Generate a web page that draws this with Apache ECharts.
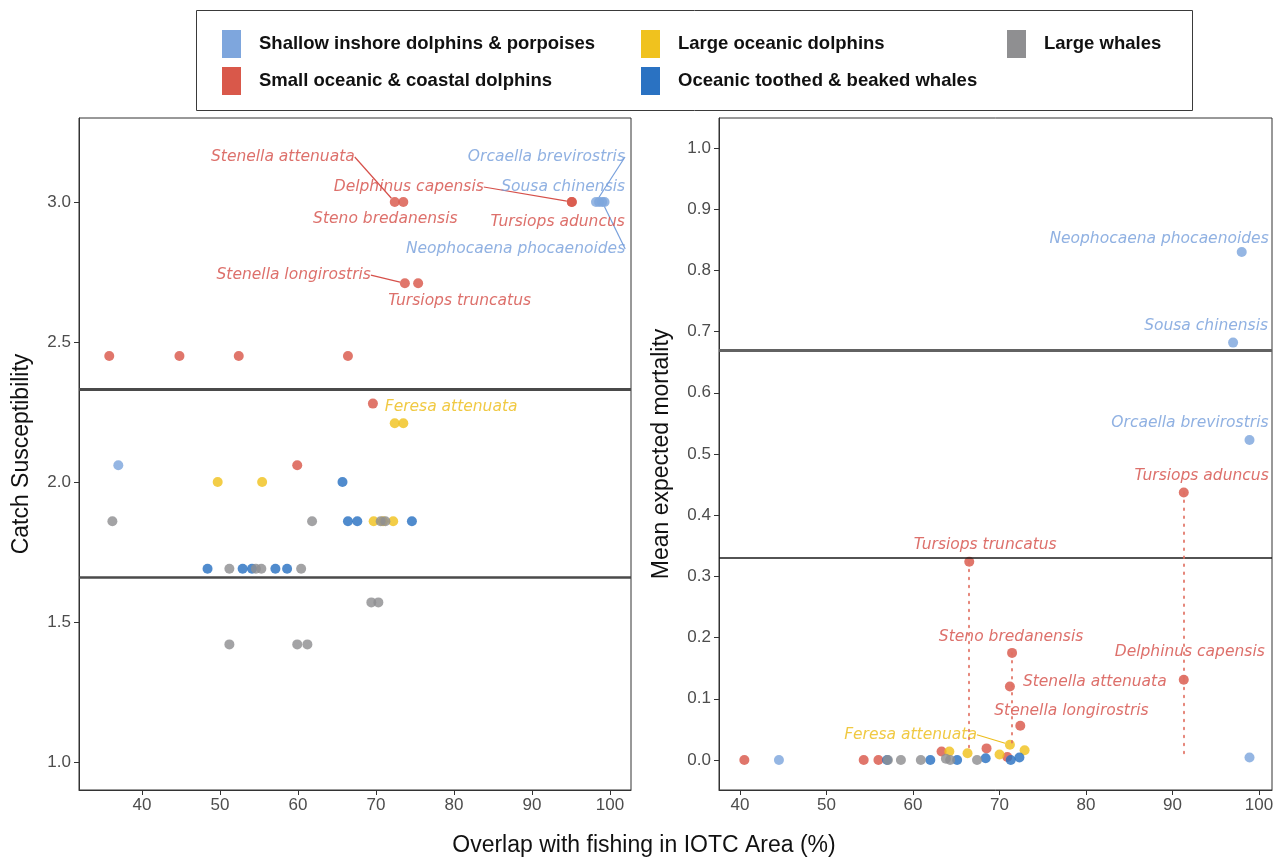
<!DOCTYPE html>
<html>
<head>
<meta charset="utf-8">
<script src="https://cdn.jsdelivr.net/npm/echarts@6/dist/echarts.min.js"></script>
<style>
  html, body { margin: 0; padding: 0; background: #fff; }
  #chart { width: 1277px; height: 861px; }
</style>
</head>
<body>
<div id="chart"></div>
<script>
// ---------- data ----------
const groups = [
  'Shallow inshore dolphins & porpoises',
  'Small oceanic & coastal dolphins',
  'Large oceanic dolphins',
  'Oceanic toothed & beaked whales',
  'Large whales'
];

// tick values
const overlapTicks = [40, 50, 60, 70, 80, 90, 100];
const susceptibilityTicks = [1.0, 1.5, 2.0, 2.5, 3.0];
const mortalityTicks = [0.0, 0.1, 0.2, 0.3, 0.4, 0.5, 0.6, 0.7, 0.8, 0.9, 1.0];

// category thresholds
const susceptibilityBands = [1.66, 2.33];
const mortalityBands = [0.333, 0.667];

// Catch susceptibility panel: [overlap %, susceptibility, species]
const catchShallow = [[36.96, 2.06], [98.2, 3.0, 'Orcaella brevirostris'], [98.6, 3.0, 'Sousa chinensis'],
  [99.0, 3.0, 'Neophocaena phocaenoides'], [99.3, 3.0]];
const catchSmallOceanic = [[35.8, 2.45], [44.8, 2.45], [52.4, 2.45], [66.4, 2.45], [69.6, 2.28], [59.9, 2.06],
  [72.4, 3.0, 'Stenella attenuata'], [73.5, 3.0, 'Steno bredanensis'],
  [95.1, 3.0, 'Delphinus capensis'], [95.1, 3.0, 'Tursiops aduncus'],
  [73.7, 2.71, 'Stenella longirostris'], [75.4, 2.71, 'Tursiops truncatus']];
const catchLargeOceanic = [[72.4, 2.21, 'Feresa attenuata'], [73.5, 2.21], [49.7, 2.0], [55.4, 2.0],
  [69.7, 1.86], [70.9, 1.86], [72.2, 1.86]];
const catchToothed = [[65.7, 2.0], [66.4, 1.86], [67.6, 1.86], [74.6, 1.86],
  [48.4, 1.69], [52.9, 1.69], [54.1, 1.69], [57.1, 1.69], [58.6, 1.69]];
const catchWhales = [[36.2, 1.86], [61.8, 1.86], [70.6, 1.86], [71.2, 1.86],
  [51.2, 1.69], [54.6, 1.69], [55.3, 1.69], [60.4, 1.69],
  [69.4, 1.57], [70.3, 1.57], [51.2, 1.42], [59.9, 1.42], [61.2, 1.42]];

// Mean expected mortality panel: [overlap %, mortality, species]
const mortShallow = [[98.0, 0.830, 'Neophocaena phocaenoides'], [97.0, 0.682, 'Sousa chinensis'],
  [98.9, 0.523, 'Orcaella brevirostris'], [98.9, 0.004], [44.5, 0.0]];
const mortSmallOceanic = [[66.5, 0.324, 'Tursiops truncatus'], [71.45, 0.175, 'Steno bredanensis'],
  [71.2, 0.12, 'Stenella attenuata'], [72.4, 0.056, 'Stenella longirostris'],
  [91.3, 0.131, 'Delphinus capensis'], [91.3, 0.437, 'Tursiops aduncus'],
  [40.5, 0.0], [54.3, 0.0], [56.0, 0.0], [63.3, 0.014], [68.5, 0.019], [70.9, 0.005]];
const mortLargeOceanic = [[71.2, 0.025, 'Feresa attenuata'], [64.2, 0.014], [66.3, 0.011],
  [70.0, 0.009], [72.9, 0.016]];
const mortToothed = [[57.0, 0.0], [62.0, 0.0], [65.1, 0.0], [68.4, 0.003], [71.3, 0.0], [72.3, 0.004]];
const mortWhales = [[57.1, 0.0], [58.6, 0.0], [60.9, 0.0], [63.8, 0.002], [64.3, 0.0], [67.4, 0.0]];

// lower end of the dotted mortality range for some species
const mortalityLower = {
  'Tursiops truncatus': 0.015,
  'Steno bredanensis': 0.02,
  'Tursiops aduncus': 0.131,
  'Delphinus capensis': 0.01
};

// ---------- styling / layout ----------
const pointColors = ['#7EA6DD', '#D9584A', '#F0C21E', '#2A72C2', '#8F8F91'];
const textColors = ['#78A0DC', '#D6504A', '#EDBD1A', '#2A72C2', '#888888'];

// label offsets from the point: [dx, dy, anchor side, leader line]
const catchPlacement = {
  'Stenella attenuata': [-40, -45, 'right', true],
  'Steno bredanensis': [-18, 17, 'center', false],
  'Delphinus capensis': [-88, -15, 'right', true],
  'Tursiops aduncus': [53, 20, 'right', false],
  'Orcaella brevirostris': [29, -45, 'right', true],
  'Sousa chinensis': [26, -15, 'right', false],
  'Neophocaena phocaenoides': [23, 47, 'right', true],
  'Stenella longirostris': [-34, -8, 'right', true],
  'Tursiops truncatus': [-30, 18, 'left', false],
  'Feresa attenuata': [-10, -16, 'left', false]
};
const mortPlacement = {
  'Neophocaena phocaenoides': [27, -13, 'right', false],
  'Sousa chinensis': [35, -17, 'right', false],
  'Orcaella brevirostris': [19, -17, 'right', false],
  'Tursiops aduncus': [85, -17, 'right', false],
  'Tursiops truncatus': [16, -17, 'center', false],
  'Steno bredanensis': [-1, -16, 'center', false],
  'Delphinus capensis': [81, -28, 'right', false],
  'Stenella attenuata': [13, -5, 'left', false],
  'Stenella longirostris': [-26, -15, 'left', false],
  'Feresa attenuata': [-33, -10, 'right', true]
};

const tickFont = { fontFamily: 'Liberation Sans, Arial, sans-serif', fontSize: 17, color: '#4D4D4D' };
const titleFont = { fontFamily: 'Liberation Sans, Arial, sans-serif', fontSize: 23, color: '#111' };

function scatterSeries(groupIndex, rows, panel, placement) {
  return {
    type: 'scatter',
    name: groups[groupIndex],
    xAxisIndex: panel,
    yAxisIndex: panel,
    symbolSize: 10,
    itemStyle: { color: pointColors[groupIndex], opacity: 0.82 },
    emphasis: { disabled: true },
    data: rows.map(r => {
      const item = { value: [r[0], r[1]] };
      if (r[2]) {
        const p = placement[r[2]];
        item.name = r[2];
        item.label = { show: true };
        item.labelLine = { show: !!(p && p[3]) };
      }
      return item;
    }),
    label: {
      show: false,
      position: 'inside',
      formatter: '{b}',
      fontFamily: 'DejaVu Sans, sans-serif',
      fontStyle: 'italic',
      fontSize: 15.5,
      color: textColors[groupIndex]
    },
    labelLine: { show: false, lineStyle: { color: textColors[groupIndex], width: 1.2 } },
    labelLayout: function (params) {
      const row = rows[params.dataIndex];
      const p = row && row[2] ? placement[row[2]] : null;
      if (!p) return {};
      return { dx: p[0], dy: p[1], align: p[2], verticalAlign: 'middle' };
    }
  };
}

function bandLines(values, styles) {
  return {
    silent: true,
    symbol: ['none', 'none'],
    label: { show: false },
    animation: false,
    data: values.map((v, i) => ({ yAxis: v, lineStyle: styles[i] }))
  };
}

const series = [];
// catch susceptibility panel
const catchSets = [catchShallow, catchSmallOceanic, catchLargeOceanic, catchToothed, catchWhales];
catchSets.forEach((rows, g) => series.push(scatterSeries(g, rows, 0, catchPlacement)));
series[0].markLine = bandLines(susceptibilityBands, [
  { color: '#4A4A4A', width: 2.6, type: 'solid' },
  { color: '#4A4A4A', width: 3, type: 'solid' }
]);

// mortality panel
const mortSets = [mortShallow, mortSmallOceanic, mortLargeOceanic, mortToothed, mortWhales];
mortSets.forEach((rows, g) => series.push(scatterSeries(g, rows, 1, mortPlacement)));
series[5].markLine = bandLines(mortalityBands, [
  { color: '#1A1A1A', width: 1.6, type: 'solid' },
  { color: '#626262', width: 3, type: 'solid' }
]);

// dotted ranges for small oceanic dolphins
series[6].markLine = {
  silent: true,
  symbol: ['none', 'none'],
  label: { show: false },
  animation: false,
  lineStyle: { color: '#E07062', width: 2, type: [1.5, 6.5], cap: 'round', opacity: 0.85 },
  data: mortSmallOceanic
    .filter(r => r[2] && mortalityLower[r[2]] !== undefined)
    .map(r => [{ coord: [r[0], r[1]] }, { coord: [r[0], mortalityLower[r[2]]] }])
};

function xAxisFor(grid, min, max) {
  return {
    type: 'value', gridIndex: grid, min: min, max: max,
    splitLine: { show: false },
    axisLine: { show: true, onZero: false, lineStyle: { color: '#333', width: 1 } },
    axisTick: { show: true, length: 5, customValues: overlapTicks, lineStyle: { color: '#333' } },
    axisLabel: Object.assign({ customValues: overlapTicks, margin: 7, formatter: v => String(Math.round(v)) }, tickFont)
  };
}
function yAxisFor(grid, min, max, ticks, name) {
  return {
    type: 'value', gridIndex: grid, min: min, max: max,
    name: name, nameLocation: 'middle', nameGap: 46, nameRotate: 90,
    nameTextStyle: titleFont,
    splitLine: { show: false },
    axisLine: { show: true, onZero: false, lineStyle: { color: '#333', width: 1 } },
    axisTick: { show: true, length: 5, customValues: ticks, lineStyle: { color: '#333' } },
    axisLabel: Object.assign({ customValues: ticks, margin: 8, formatter: v => v.toFixed(1) }, tickFont)
  };
}

// legend key positions, in the order of `groups`
const legendSpots = [[217, 25], [217, 62], [636, 25], [636, 62], [1002, 25]];
const legends = groups.map((g, i) => ({
  data: [g],
  left: legendSpots[i][0],
  top: legendSpots[i][1],
  icon: 'rect',
  itemWidth: 19,
  itemHeight: 28,
  selectedMode: false,
  itemStyle: { opacity: 1 },
  textStyle: { fontFamily: 'Liberation Sans, Arial, sans-serif', fontWeight: 'bold', fontSize: 18.5, color: '#111', padding: [0, 0, 0, 13] }
}));

const chart = echarts.init(document.getElementById('chart'), null, { renderer: 'canvas' });
chart.setOption({
  animation: false,
  backgroundColor: '#fff',
  grid: [
    { left: 79, right: 646, top: 118, bottom: 71, show: true, borderColor: '#333', borderWidth: 1, outerBoundsMode: 'none' },
    { left: 719, right: 5, top: 118, bottom: 71, show: true, borderColor: '#333', borderWidth: 1, outerBoundsMode: 'none' }
  ],
  xAxis: [xAxisFor(0, 31.92, 102.69), xAxisFor(1, 37.57, 101.5)],
  yAxis: [
    yAxisFor(0, 0.90, 3.30, susceptibilityTicks, 'Catch Susceptibility'),
    yAxisFor(1, -0.049, 1.049, mortalityTicks, 'Mean expected mortality')
  ],
  legend: legends,
  graphic: [
    { type: 'rect', shape: { x: 196.5, y: 10.5, width: 996, height: 100 }, style: { fill: 'none', stroke: '#3a3a3a', lineWidth: 1 }, silent: true },
    { type: 'text', x: 644, y: 846, style: { text: 'Overlap with fishing in IOTC Area (%)', align: 'center', verticalAlign: 'middle', fill: '#111', font: '23px "Liberation Sans", Arial, sans-serif' }, silent: true }
  ],
  series: series
});
</script>
</body>
</html>
